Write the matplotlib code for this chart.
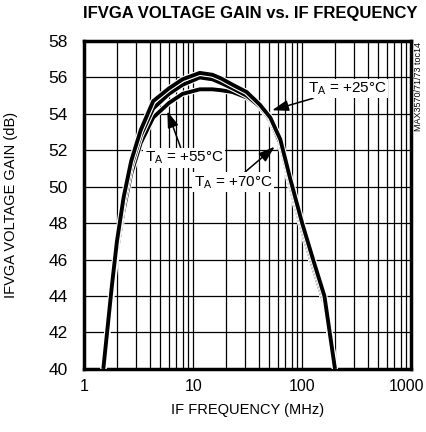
import matplotlib
matplotlib.use('Agg')
import matplotlib.pyplot as plt
import matplotlib.patheffects as pe
import matplotlib.transforms as mtransforms
import numpy as np

plt.rcParams['font.family'] = ['Liberation Sans Narrow', 'Liberation Sans', 'DejaVu Sans']

freq = [1.5, 1.8, 2.0, 2.3, 2.7, 3.3, 4.3, 6.0, 8.0, 11.5, 15, 18, 23, 31, 41, 51, 63, 78, 100, 126, 160, 200]
gain_25 = [40, 44.6, 47.0, 49.4, 51.4, 53.1, 54.7, 55.4, 55.9, 56.25, 56.15, 55.95, 55.6, 55.2, 54.5, 53.8, 52.6, 50.4, 48.0, 46.0, 44.0, 40]
gain_55 = [40, 44.4, 46.8, 49.1, 51.1, 52.8, 54.3, 55.1, 55.6, 56.0, 55.9, 55.7, 55.4, 55.0, 54.4, 53.7, 52.4, 50.2, 47.8, 45.8, 43.8, 40]
gain_70 = [40, 44.2, 46.5, 48.7, 50.7, 52.4, 53.8, 54.6, 55.1, 55.35, 55.35, 55.3, 55.2, 54.9, 54.4, 53.6, 52.3, 50.0, 47.6, 45.6, 43.6, 40]

fig = plt.figure(figsize=(4.27, 4.32), dpi=100)
ax = fig.add_axes([0.197, 0.146, 0.766, 0.759])

for g in (gain_70, gain_55, gain_25):
    ax.plot(freq, g, color='black', lw=2.8, solid_capstyle='butt',
            path_effects=[pe.Stroke(linewidth=4.4, foreground='white'), pe.Normal()], zorder=3)

ax.set_xscale('log')
ax.set_xlim(1, 1000)
ax.set_ylim(40, 58)
ax.set_yticks(np.arange(40, 59, 2))
ax.set_xticks([1, 10, 100, 1000])
ax.set_xticklabels(['1', '10', '100', '1000'])
ax.xaxis.set_minor_locator(matplotlib.ticker.LogLocator(base=10, subs=np.arange(2, 10)))
ax.xaxis.set_minor_formatter(matplotlib.ticker.NullFormatter())
ax.grid(True, which='both', color='black', lw=0.9)
ax.tick_params(which='both', length=0)
ax.tick_params(axis='y', labelsize=12.5, pad=12)
ax.tick_params(axis='x', labelsize=11.5, pad=7)
for s in ax.spines.values():
    s.set_linewidth(2.5)

# pull the "1000" label in so it stays on the canvas
last = ax.get_xticklabels()[-1]
last.set_transform(last.get_transform() + mtransforms.ScaledTranslation(-5 / 100, 0, fig.dpi_scale_trans))

ax.set_xlabel('IF FREQUENCY (MHz)', fontsize=10.5, labelpad=7)
ax.set_ylabel('IFVGA VOLTAGE GAIN (dB)', fontsize=10.5, labelpad=22)

fig.text(0.586, 0.968, 'IFVGA VOLTAGE GAIN vs. IF FREQUENCY', ha='center', va='center',
         fontsize=12, fontweight='bold')
fig.text(0.979, 0.80, 'MAX3570/71/73 toc14', rotation=90, ha='center', va='center', fontsize=6.5)

box = dict(boxstyle='square,pad=0.1', fc='white', ec='none')
arrow = dict(arrowstyle='-|>,head_length=0.9,head_width=0.3', color='black', lw=1.1, shrinkA=0, shrinkB=0)
ax.annotate('T$_\\mathregular{A}$ = +25°C', xy=(53, 54.2), xytext=(112, 55.4),
            fontsize=11, va='center', ha='left', bbox=box, arrowprops=arrow, zorder=5)
ax.annotate('T$_\\mathregular{A}$ = +55°C', xy=(5.8, 54.15), xytext=(8.3, 51.6),
            fontsize=11, va='center', ha='center', bbox=box, arrowprops=arrow, zorder=5)
ax.annotate('T$_\\mathregular{A}$ = +70°C', xy=(56, 52.2), xytext=(23.3, 50.25),
            fontsize=11, va='center', ha='center', bbox=box, arrowprops=arrow, zorder=5)

fig.savefig('out.png', dpi=100)
